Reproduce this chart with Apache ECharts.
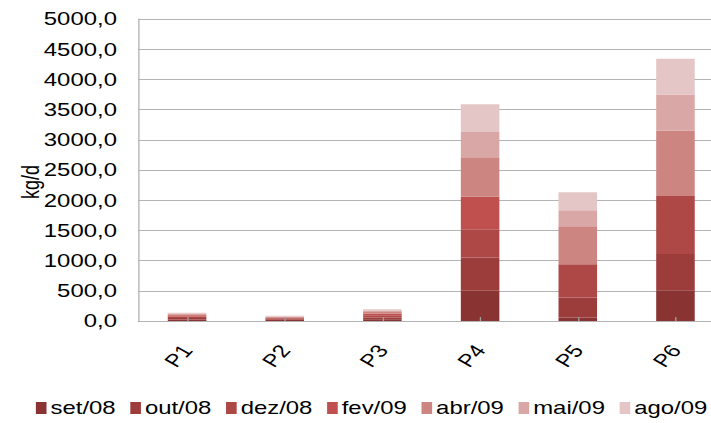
<!DOCTYPE html>
<html>
<head>
<meta charset="utf-8">
<script src="https://cdn.jsdelivr.net/npm/echarts@6/dist/echarts.min.js"></script>
<style>
  html, body { margin: 0; padding: 0; background: #ffffff; overflow: hidden; }
  /* The chart is laid out narrower and widened horizontally, giving the wide lettering of the original figure */
  #chart { width: 535px; height: 423px; transform: scaleX(1.329); transform-origin: 0 0; }
</style>
</head>
<body>
<div id="chart"></div>
<script>
// Monitoring points
const categories = ['P1', 'P2', 'P3', 'P4', 'P5', 'P6'];

// Load per sampling campaign (kg/d)
const set08 = [25, 15, 30, 500, 60, 510];
const out08 = [25, 15, 30, 550, 330, 600];
const dez08 = [25, 15, 35, 470, 550, 960];
const fev09 = [20, 10, 30, 540, 0, 0];
const abr09 = [15, 10, 25, 650, 630, 1085];
const mai09 = [15, 10, 25, 420, 265, 595];
const ago09 = [10, 10, 20, 460, 295, 590];

const seriesNames = ['set/08', 'out/08', 'dez/08', 'fev/09', 'abr/09', 'mai/09', 'ago/09'];
const seriesData = [set08, out08, dez08, fev09, abr09, mai09, ago09];
const seriesColors = ['#893333', '#9d3d3b', '#ae4846', '#c0504d', '#cd8582', '#d9a7a6', '#e5c6c6'];

// Y axis ticks
const yMin = 0, yMax = 5000, yStep = 500;

const FONT = 'Liberation Sans, Arial, sans-serif';
const gridColor = '#b4b4b4';

const chart = echarts.init(document.getElementById('chart'), null, { renderer: 'svg' });

chart.setOption({
  animation: false,
  textStyle: { fontFamily: FONT },
  // the plot runs slightly past the right edge of the frame
  grid: { left: 104, width: 441, top: 19, bottom: 102, containLabel: false, outerBoundsMode: 'none' },
  legend: {
    data: seriesNames,
    left: 27,
    top: 399,
    width: 520,
    padding: 0,
    itemWidth: 8,
    itemHeight: 12,
    itemGap: 11,
    icon: 'rect',
    textStyle: { fontFamily: FONT, fontSize: 18, color: '#000', padding: [0, 0, 0, -2] }
  },
  xAxis: {
    type: 'category',
    data: categories,
    z: 5,
    axisLine: { lineStyle: { color: gridColor, width: 1 } },
    axisTick: { show: true, inside: true, alignWithLabel: true, length: 4, lineStyle: { color: '#a0a0a0' } },
    axisLabel: { rotate: 53, margin: 26, fontSize: 18, color: '#000', fontFamily: FONT }
  },
  yAxis: {
    type: 'value',
    min: yMin,
    max: yMax,
    interval: yStep,
    name: 'kg/d',
    nameLocation: 'middle',
    nameGap: 72,
    nameMoveOverlap: false,
    nameTextStyle: { fontSize: 18, color: '#000', fontFamily: FONT, padding: [0, 24, 0, 0] },
    axisLine: { show: true, lineStyle: { color: gridColor, width: 1 } },
    axisTick: { show: false },
    splitLine: { show: true, lineStyle: { color: gridColor, width: 1 } },
    axisLabel: {
      margin: 16,
      fontSize: 18,
      color: '#000',
      fontFamily: FONT,
      formatter: v => v.toFixed(1).replace('.', ',')
    }
  },
  series: seriesNames.map((name, i) => ({
    name: name,
    type: 'bar',
    stack: 'total',
    barWidth: 29,
    data: seriesData[i],
    itemStyle: { color: seriesColors[i] }
  }))
});
</script>
</body>
</html>
